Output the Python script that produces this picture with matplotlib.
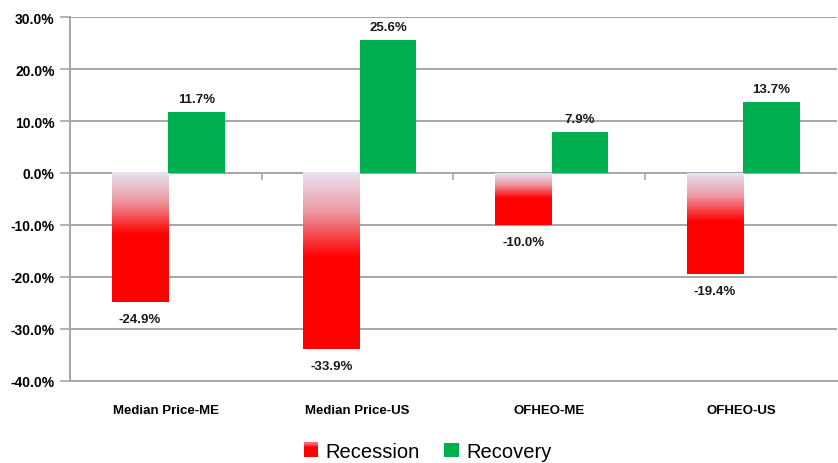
import numpy as np
import matplotlib
matplotlib.use("Agg")
import matplotlib.pyplot as plt
from matplotlib.colors import LinearSegmentedColormap
from matplotlib.patches import Rectangle, Patch
from matplotlib.legend_handler import HandlerBase

categories = ["Median Price-ME", "Median Price-US", "OFHEO-ME", "OFHEO-US"]
recession = [-24.9, -33.9, -10.0, -19.4]
recovery = [11.7, 25.6, 7.9, 13.7]
y_ticks = [30, 20, 10, 0, -10, -20, -30, -40]

GREEN = "#00b050"
GRID = "#a6a6a6"
plt.rcParams["font.family"] = ["Liberation Sans", "DejaVu Sans"]

# lavender at the zero line fading into solid red halfway down the bar
grad_cmap = LinearSegmentedColormap.from_list(
    "rec", [(0.0, "#e8e4f0"), (0.22, "#ec9aa4"), (0.48, "#ff0000"), (1.0, "#ff0000")])


class GradientHandler(HandlerBase):
    def create_artists(self, legend, orig_handle, xdescent, ydescent,
                       width, height, fontsize, trans):
        n = 12
        w = height
        x0 = -xdescent + (width - w) / 2
        out = []
        for i in range(n):
            c = grad_cmap(0.5 * i / (n - 1) + 0.3)
            y = -ydescent + height * (1 - (i + 1) / n)
            out.append(Rectangle((x0, y), w, height / n + 0.05, facecolor=c,
                                 edgecolor="none", transform=trans))
        return out


fig = plt.figure(figsize=(8.38, 4.64), dpi=100)
ax = fig.add_axes([0.0835, 0.177, 0.915, 0.784])

x = np.arange(len(categories))
bw = 0.295
shift = 0.012  # bars sit a touch right of the category centre

for i, v in enumerate(recession):
    grad = np.linspace(0, 1, 256).reshape(-1, 1)
    ax.imshow(grad, cmap=grad_cmap, aspect="auto", origin="upper",
              extent=[x[i] - bw + shift, x[i] + shift, v, 0], zorder=3,
              interpolation="bilinear")
    ax.text(x[i] - bw / 2 + shift, v - 2.1, f"{v:.1f}%", ha="center", va="top",
            fontsize=9.5, fontweight="bold", color="#1a1a1a", zorder=5)

ax.bar(x + bw / 2 + shift, recovery, width=bw, color=GREEN, zorder=3)
for i, v in enumerate(recovery):
    ax.text(x[i] + bw / 2 + shift, v + 1.3, f"{v:.1f}%", ha="center", va="bottom",
            fontsize=9.5, fontweight="bold", color="#1a1a1a", zorder=5)

ax.set_xlim(-0.5, len(categories) - 0.5)
ax.set_ylim(-40, 30)

ax.set_yticks(y_ticks)
ax.set_yticklabels([f"{t:.1f}%" for t in y_ticks], fontsize=10, fontweight="bold")
ax.yaxis.grid(True, color=GRID, linewidth=1.4, zorder=1)
ax.set_axisbelow(True)
ax.tick_params(axis="y", length=7, width=1.2, color=GRID, pad=4)

ax.set_xticks(x)
ax.set_xticklabels(categories, fontsize=9.5, fontweight="bold")
ax.tick_params(axis="x", length=0, pad=17)

# category separators on the zero line
ax.vlines(x[:-1] + 0.5, -1.3, 0, color=GRID, linewidth=1.2, zorder=2)

for s in ["top", "right"]:
    ax.spines[s].set_visible(False)
ax.spines["left"].set_color(GRID)
ax.spines["left"].set_linewidth(1.4)
ax.spines["bottom"].set_color(GRID)
ax.spines["bottom"].set_linewidth(1.4)

handles = [Patch(label="Recession"), Patch(facecolor=GREEN, label="Recovery")]
fig.legend(handles=handles, loc="center", bbox_to_anchor=(0.51, 0.025),
           ncol=2, frameon=False, fontsize=14.5, handlelength=0.75,
           handleheight=0.75, handletextpad=0.35, columnspacing=1.2,
           handler_map={handles[0]: GradientHandler()})

fig.savefig("out.png", dpi=100)
